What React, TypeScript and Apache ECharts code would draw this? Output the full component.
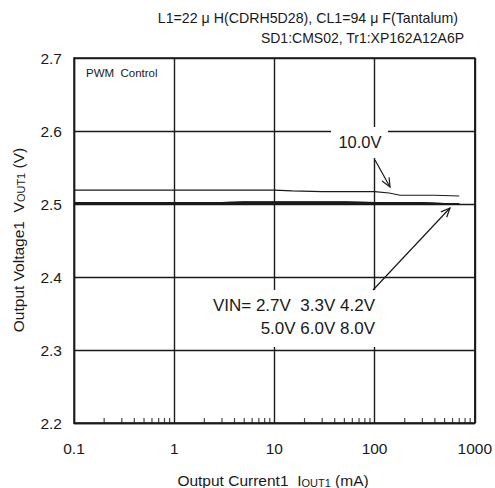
import React, { useEffect, useRef } from "react";
import * as echarts from "echarts";

// ---- data ----
const xTickLabels = ["0.1", "1", "10", "100", "1000"];
const yTickValues = [2.2, 2.3, 2.4, 2.5, 2.6, 2.7];

const i10 = [0.1, 1, 10, 15, 30, 100, 140, 180, 400, 700];
const v10 = [2.519, 2.519, 2.519, 2.518, 2.517, 2.517, 2.515, 2.512, 2.512, 2.511];

const iVin = [0.1, 1, 3, 5, 10, 50, 100, 300, 500, 700];
const v27 = [2.501, 2.501, 2.501, 2.501, 2.501, 2.501, 2.501, 2.5005, 2.5, 2.4995];
const v33 = [2.5015, 2.5015, 2.5015, 2.5015, 2.5015, 2.5015, 2.5015, 2.501, 2.5005, 2.4995];
const v42 = [2.502, 2.502, 2.502, 2.503, 2.503, 2.503, 2.502, 2.5015, 2.5005, 2.4995];
const v50 = [2.5015, 2.5015, 2.502, 2.5025, 2.5025, 2.5025, 2.502, 2.501, 2.5005, 2.5];
const v60 = [2.501, 2.501, 2.501, 2.5015, 2.5015, 2.5015, 2.5015, 2.501, 2.5, 2.4995];
const v80 = [2.5005, 2.5005, 2.5005, 2.501, 2.501, 2.501, 2.501, 2.5005, 2.5, 2.4995];

const vinNames = ["2.7V", "3.3V", "4.2V", "5.0V", "6.0V", "8.0V"];
const vinSeries = [v27, v33, v42, v50, v60, v80];

// minor ticks of the log axis (2..9 per decade)
const minorTickValues: number[] = [];
[0.1, 1, 10, 100].forEach((d) => {
  for (let k = 2; k <= 9; k++) minorTickValues.push(Number((d * k).toPrecision(3)));
});

const FONT = "'Liberation Sans', Arial, sans-serif";
const INK = "#1a1a1a";

export default function App() {
  const ref = useRef<HTMLDivElement>(null);

  useEffect(() => {
    if (!ref.current) return;
    const chart = echarts.init(ref.current, undefined, { renderer: "svg" });

    const lineSeries: any[] = [
      {
        name: "10.0V",
        type: "line",
        data: i10.map((x, i) => [x, v10[i]]),
        symbol: "none",
        lineStyle: { color: INK, width: 1.1 },
        z: 3,
      },
      ...vinSeries.map((arr, s) => ({
        name: vinNames[s],
        type: "line",
        data: iVin.map((x, i) => [x, arr[i]]),
        symbol: "none",
        lineStyle: { color: INK, width: 1.3 },
        z: 3,
      })),
      {
        name: "minorTicks",
        type: "scatter",
        data: minorTickValues.map((x) => [x, 2.2]),
        symbol: "rect",
        symbolSize: [1.2, 5],
        symbolOffset: [0, -2.5],
        itemStyle: { color: INK },
        silent: true,
        z: 4,
      },
    ];

    const richTitle = {
      a: { fontSize: 15.5, fontFamily: FONT, fill: INK, color: INK },
      b: { fontSize: 11, fontFamily: FONT, fill: INK, color: INK, verticalAlign: "bottom" },
    };

    chart.setOption({
      animation: false,
      backgroundColor: "#ffffff",
      textStyle: { fontFamily: FONT },
      grid: {
        left: 74,
        top: 58,
        right: 20,
        bottom: 65,
        show: true,
        borderColor: INK,
        borderWidth: 1.4,
        backgroundColor: "transparent",
      },
      xAxis: {
        type: "log",
        logBase: 10,
        min: 0.1,
        max: 1000,
        axisLine: { show: true, lineStyle: { color: INK, width: 1.4 } },
        axisTick: { show: false },
        splitLine: { show: true, lineStyle: { color: INK, width: 1.4 } },
        axisLabel: {
          color: INK,
          fontSize: 15.5,
          fontFamily: FONT,
          margin: 17,
          formatter: (v: number) => {
            const s = String(Number(v.toPrecision(3)));
            return xTickLabels.includes(s) ? s : "";
          },
        },
      },
      yAxis: {
        type: "value",
        min: 2.2,
        max: 2.7,
        interval: 0.1,
        axisLine: { show: true, lineStyle: { color: INK, width: 1.4 } },
        axisTick: { show: false },
        splitLine: { show: true, lineStyle: { color: INK, width: 1.4 } },
        axisLabel: {
          color: INK,
          fontSize: 15.5,
          fontFamily: FONT,
          margin: 12,
          formatter: (v: number) => {
            const r = Number(v.toFixed(1));
            return yTickValues.includes(r) ? r.toFixed(1) : "";
          },
        },
      },
      series: lineSeries,
      graphic: [
        {
          type: "text",
          x: 458,
          y: 18,
          style: {
            text: "L1=22 μ H(CDRH5D28), CL1=94 μ F(Tantalum)",
            fontSize: 14.2,
            fontFamily: FONT,
            fill: INK,
            align: "right",
            verticalAlign: "middle",
          },
        },
        {
          type: "text",
          x: 464,
          y: 38,
          style: {
            text: "SD1:CMS02, Tr1:XP162A12A6P",
            fontSize: 14,
            fontFamily: FONT,
            fill: INK,
            align: "right",
            verticalAlign: "middle",
          },
        },
        {
          type: "text",
          x: 86,
          y: 73,
          z: 10,
          style: {
            text: "PWM  Control",
            fontSize: 11.5,
            fontFamily: FONT,
            fill: INK,
            align: "left",
            verticalAlign: "middle",
          },
        },
        // 10.0V label
        {
          type: "rect",
          z: 10,
          shape: { x: 331, y: 127, width: 57, height: 31 },
          style: { fill: "#ffffff" },
        },
        {
          type: "text",
          x: 360,
          y: 142,
          z: 11,
          style: {
            text: "10.0V",
            fontSize: 16.5,
            fontFamily: FONT,
            fill: INK,
            align: "center",
            verticalAlign: "middle",
          },
        },
        {
          type: "line",
          z: 11,
          shape: { x1: 375, y1: 160, x2: 390, y2: 187 },
          style: { stroke: INK, lineWidth: 1.2 },
        },
        {
          type: "polyline",
          z: 11,
          shape: { points: [[382.1, 181.1], [390, 187], [389.1, 177.2]] },
          style: { stroke: INK, lineWidth: 1.2, fill: "none" },
        },
        // VIN label
        {
          type: "rect",
          z: 10,
          shape: { x: 208, y: 290, width: 172, height: 57 },
          style: { fill: "#ffffff" },
        },
        {
          type: "text",
          x: 375,
          y: 305,
          z: 11,
          style: {
            text: "VIN= 2.7V  3.3V 4.2V",
            fontSize: 17,
            fontFamily: FONT,
            fill: INK,
            align: "right",
            verticalAlign: "middle",
          },
        },
        {
          type: "text",
          x: 375,
          y: 328,
          z: 11,
          style: {
            text: "5.0V 6.0V 8.0V",
            fontSize: 17,
            fontFamily: FONT,
            fill: INK,
            align: "right",
            verticalAlign: "middle",
          },
        },
        {
          type: "line",
          z: 11,
          shape: { x1: 373, y1: 290, x2: 450, y2: 208 },
          style: { stroke: INK, lineWidth: 1.2 },
        },
        {
          type: "polyline",
          z: 11,
          shape: { points: [[446.7, 217.3], [450, 208], [440.9, 211.9]] },
          style: { stroke: INK, lineWidth: 1.2, fill: "none" },
        },
        // axis titles
        {
          type: "text",
          x: 273,
          y: 480,
          style: {
            text: "{a|Output Current1  I}{b|OUT1}{a| (mA)}",
            fontFamily: FONT,
            fill: INK,
            align: "center",
            verticalAlign: "middle",
            rich: richTitle,
          },
        },
        {
          type: "text",
          x: 18,
          y: 240,
          rotation: Math.PI / 2,
          style: {
            text: "{a|Output Voltage1  V}{b|OUT1}{a| (V)}",
            fontFamily: FONT,
            fill: INK,
            align: "center",
            verticalAlign: "middle",
            rich: richTitle,
          },
        },
      ],
    });

    return () => chart.dispose();
  }, []);

  return (
    <div
      ref={ref}
      style={{ position: "fixed", left: 0, top: 0, width: 495, height: 488, background: "#fff" }}
    />
  );
}
